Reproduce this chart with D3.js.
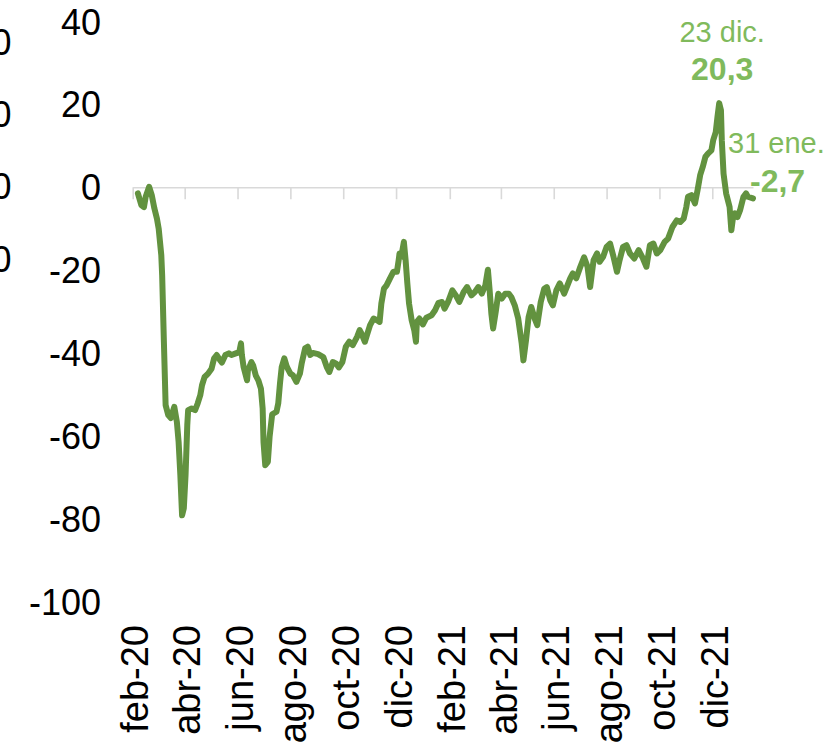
<!DOCTYPE html>
<html>
<head>
<meta charset="utf-8">
<script src="https://cdn.jsdelivr.net/npm/d3@7"></script>
<style>
  html, body { margin: 0; padding: 0; background: #fff; }
  svg { display: block; font-family: "Liberation Sans", Arial, sans-serif; }
</style>
</head>
<body>
<svg width="833" height="745"></svg>
<script>
// --- data ---
const dates = [
  "2020-02-21","2020-02-25","2020-02-28",
  "2020-03-01","2020-03-05","2020-03-08","2020-03-11","2020-03-14","2020-03-16","2020-03-19","2020-03-20","2020-03-22","2020-03-24","2020-03-27","2020-03-30",
  "2020-04-03","2020-04-06","2020-04-08","2020-04-10","2020-04-12","2020-04-14","2020-04-16","2020-04-18","2020-04-19","2020-04-23","2020-04-27","2020-04-30",
  "2020-05-03","2020-05-05","2020-05-08","2020-05-12","2020-05-16","2020-05-19","2020-05-22","2020-05-26","2020-05-28",
  "2020-06-01","2020-06-05","2020-06-08","2020-06-13","2020-06-17","2020-06-19","2020-06-20","2020-06-22","2020-06-26","2020-06-27",
  "2020-07-01","2020-07-03","2020-07-06","2020-07-09","2020-07-12","2020-07-14","2020-07-15","2020-07-17","2020-07-20","2020-07-22","2020-07-25","2020-07-30",
  "2020-08-01","2020-08-03","2020-08-05","2020-08-08","2020-08-11","2020-08-15","2020-08-18","2020-08-22","2020-08-26","2020-08-28",
  "2020-09-01","2020-09-04","2020-09-07","2020-09-10","2020-09-16","2020-09-22","2020-09-26","2020-09-29",
  "2020-10-03","2020-10-07","2020-10-10","2020-10-14","2020-10-18","2020-10-22","2020-10-26","2020-10-31",
  "2020-11-03","2020-11-05","2020-11-09","2020-11-12","2020-11-15","2020-11-19","2020-11-23","2020-11-26","2020-11-28",
  "2020-12-01","2020-12-04","2020-12-08","2020-12-12","2020-12-16","2020-12-18","2020-12-19","2020-12-21","2020-12-24","2020-12-26","2020-12-28","2020-12-30",
  "2021-01-02","2021-01-05","2021-01-07","2021-01-08","2021-01-11","2021-01-15","2021-01-19","2021-01-25","2021-01-29",
  "2021-02-02","2021-02-06","2021-02-09","2021-02-13","2021-02-18","2021-02-22","2021-02-26",
  "2021-03-03","2021-03-07","2021-03-12","2021-03-16","2021-03-20","2021-03-24","2021-03-28","2021-03-31",
  "2021-04-02","2021-04-04","2021-04-06","2021-04-09","2021-04-12","2021-04-16","2021-04-20","2021-04-24","2021-04-27",
  "2021-05-01","2021-05-05","2021-05-09","2021-05-11","2021-05-14","2021-05-17","2021-05-20","2021-05-24","2021-05-27","2021-05-31",
  "2021-06-04","2021-06-07","2021-06-11","2021-06-14","2021-06-18","2021-06-22","2021-06-27","2021-06-30",
  "2021-07-04","2021-07-07","2021-07-11","2021-07-15","2021-07-20","2021-07-24","2021-07-27","2021-07-31",
  "2021-08-04","2021-08-07","2021-08-11","2021-08-15","2021-08-19","2021-08-23","2021-08-27","2021-08-30",
  "2021-09-03","2021-09-07","2021-09-11","2021-09-16","2021-09-21","2021-09-26","2021-09-30",
  "2021-10-04","2021-10-08","2021-10-12","2021-10-16","2021-10-21","2021-10-25","2021-10-30",
  "2021-11-04","2021-11-08","2021-11-12","2021-11-15","2021-11-17","2021-11-21","2021-11-25","2021-11-28",
  "2021-12-01","2021-12-04","2021-12-07","2021-12-10","2021-12-14","2021-12-16","2021-12-19","2021-12-21","2021-12-23","2021-12-25","2021-12-26","2021-12-28","2021-12-31",
  "2022-01-04","2022-01-06","2022-01-08","2022-01-10","2022-01-13","2022-01-16","2022-01-20","2022-01-23","2022-01-25","2022-01-31"
];

const values = [
  -1.5, -4.3, -4.8,
  -2.3, 0.1, -1.9, -5.1, -7.6, -10.0, -16.4, -21.2, -37.3, -52.6, -55.0, -55.7,
  -53.0, -56.7, -61.5, -69.5, -79.2, -77.5, -69.5, -57.4, -53.8, -53.4, -53.8, -52.2,
  -50.2, -47.8, -45.8, -45.0, -43.8, -41.3, -40.5, -41.8, -42.3,
  -40.5, -40.1, -40.5, -40.1, -39.8, -37.7, -40.5, -43.4, -46.6, -44.2,
  -42.2, -43.0, -45.4, -46.6, -48.6, -53.4, -61.5, -67.1, -66.3, -60.3, -54.8, -54.2,
  -52.2, -47.4, -43.4, -41.3, -43.4, -45.0, -45.4, -47.0, -45.0, -42.6,
  -38.9, -38.5, -40.5, -40.0, -40.3, -41.0, -43.4, -44.6,
  -42.2, -42.6, -43.5, -42.2, -38.5, -37.3, -38.1, -36.1,
  -34.5, -35.3, -37.3, -35.3, -33.3, -31.7, -32.1, -32.5, -28.1,
  -24.5, -23.7, -22.0, -20.4, -20.4, -17.6, -16.0, -16.8, -13.2, -17.6, -23.2, -28.1,
  -32.1, -34.5, -37.3, -32.5, -31.7, -33.1, -31.5, -30.9, -29.7,
  -27.9, -27.7, -29.3, -27.7, -24.9, -26.1, -27.7,
  -25.3, -24.1, -26.1, -25.3, -24.1, -25.7, -23.7, -19.9,
  -24.9, -30.5, -34.1, -30.1, -25.7, -26.9, -25.7, -25.7, -26.5,
  -28.5, -31.7, -37.7, -41.8, -36.9, -31.3, -28.9, -31.7, -33.3, -27.7,
  -24.5, -24.1, -27.3, -28.5, -24.9, -23.2, -25.7, -24.1,
  -22.0, -20.8, -22.0, -19.6, -16.9, -19.2, -24.1, -17.6,
  -16.0, -18.0, -16.8, -14.4, -13.6, -16.8, -20.4, -17.6,
  -14.4, -14.0, -16.0, -17.2, -15.2, -17.2, -19.2,
  -14.0, -13.6, -16.0, -15.2, -13.2, -12.4, -9.6,
  -8.0, -8.4, -7.6, -4.8, -2.3, -1.9, -3.9, -0.7,
  2.9, 4.9, 7.3, 8.1, 8.9, 11.3, 13.3, 17.0, 20.3, 18.6, 11.3, 3.3, -1.5,
  -4.8, -10.4, -7.2, -6.3, -7.2, -5.6, -2.3, -1.5, -2.3, -2.7
];

const tickLabels = ["feb-20", "abr-20", "jun-20", "ago-20", "oct-20", "dic-20",
                    "feb-21", "abr-21", "jun-21", "ago-21", "oct-21", "dic-21"];
const yTicks = [40, 20, 0, -20, -40, -60, -80, -100];

// callouts: date of the point and its short label
const calloutDates = ["2021-12-23", "2022-01-31"];
const calloutLabels = ["23 dic.", "31 ene."];

// the cut-off axis of the neighbouring chart on the left edge
const neighbourTicks = ["60", "40", "20", "0"];

const parse = d3.timeParse("%Y-%m-%d");
const data = dates.map((d, i) => ({ date: parse(d), value: values[i] }));

const svg = d3.select("svg");
const lineColor = "#62923f";
const labelColor = "#80ba5c";

const axisStart = parse("2020-02-15"),
      axisEnd = parse("2022-01-31");

const x = d3.scaleTime().domain([axisStart, axisEnd]).range([132.7, 753]);
const y = d3.scaleLinear().domain([40, -100]).range([21.5, 601.5]);

const tickDates = tickLabels.map((_, i) => d3.timeMonth.offset(axisStart, 2 * i));

// y labels (no axis line)
const yAxis = svg.append("g")
    .attr("transform", "translate(101,0)")
    .call(d3.axisLeft(y).tickValues(yTicks).tickSize(0).tickPadding(0)
        .tickFormat(d => String(d)));
yAxis.select(".domain").remove();
yAxis.selectAll("text")
    .attr("dy", "0.35em")
    .style("font-size", "36px")
    .style("font-family", "'Liberation Sans', Arial, sans-serif")
    .attr("fill", "#000");

// x axis line at zero, ticks pointing down
const xAxis = svg.append("g")
    .attr("transform", `translate(0,${y(0)})`)
    .call(d3.axisBottom(x).tickValues(tickDates).tickSize(12).tickSizeOuter(0).tickFormat(""));
xAxis.select(".domain").attr("stroke", "#d9d9d9").attr("stroke-width", 1.6);
xAxis.selectAll(".tick line").attr("stroke", "#d9d9d9").attr("stroke-width", 1.6);

// rotated month labels at the bottom
const xLabels = svg.append("g")
    .attr("transform", "translate(0,625)")
    .call(d3.axisBottom(x).tickValues(tickDates).tickSize(0)
        .tickFormat((d, i) => tickLabels[i]));
xLabels.select(".domain").remove();
xLabels.selectAll("text")
    .attr("x", 0)
    .attr("y", 0)
    .attr("dy", "0.4em")
    .attr("transform", "rotate(-90)")
    .attr("text-anchor", "end")
    .style("font-size", "38px")
    .style("font-family", "'Liberation Sans', Arial, sans-serif")
    .attr("fill", "#000");

// the series
const line = d3.line()
    .x(d => x(d.date))
    .y(d => y(d.value));

svg.append("path")
    .datum(data)
    .attr("fill", "none")
    .attr("stroke", lineColor)
    .attr("stroke-width", 6)
    .attr("stroke-linejoin", "round")
    .attr("stroke-linecap", "round")
    .attr("d", line);

// callouts (Spanish decimal comma, plain hyphen for negatives)
const fmt = v => d3.format(".1f")(v).replace(".", ",").replace("\u2212", "-");
const callouts = calloutDates.map((d, i) => {
    const p = data.find(e => +e.date === +parse(d));
    return { date: p.date, value: p.value, label: calloutLabels[i] };
});

// peak: centred above the point
const peak = callouts[0];
svg.append("text")
    .attr("x", x(peak.date) + 3)
    .attr("y", y(peak.value) - 61)
    .attr("text-anchor", "middle")
    .attr("fill", labelColor)
    .style("font-size", "29px")
    .text(peak.label);
svg.append("text")
    .attr("x", x(peak.date) + 3)
    .attr("y", y(peak.value) - 23)
    .attr("text-anchor", "middle")
    .attr("fill", labelColor)
    .style("font-size", "32px")
    .style("font-weight", "bold")
    .text(fmt(peak.value));

// last value: to the right of the end of the line
const last = callouts[1];
svg.append("text")
    .attr("x", x(last.date) - 25)
    .attr("y", y(last.value) - 45)
    .attr("fill", labelColor)
    .style("font-size", "29px")
    .text(last.label);
svg.append("text")
    .attr("x", x(last.date) - 3)
    .attr("y", y(last.value) - 6)
    .attr("fill", labelColor)
    .style("font-size", "32px")
    .style("font-weight", "bold")
    .text(fmt(last.value));

// labels of the neighbouring chart, cut by the left edge as in the source
const yNeighbour = d3.scalePoint().domain(neighbourTicks).range([42, 259]);
svg.append("g").selectAll("text")
    .data(neighbourTicks)
    .join("text")
    .attr("x", 11.5)
    .attr("y", d => yNeighbour(d))
    .attr("dy", "0.35em")
    .attr("text-anchor", "end")
    .style("font-size", "36px")
    .attr("fill", "#000")
    .text(d => d);
</script>
</body>
</html>
